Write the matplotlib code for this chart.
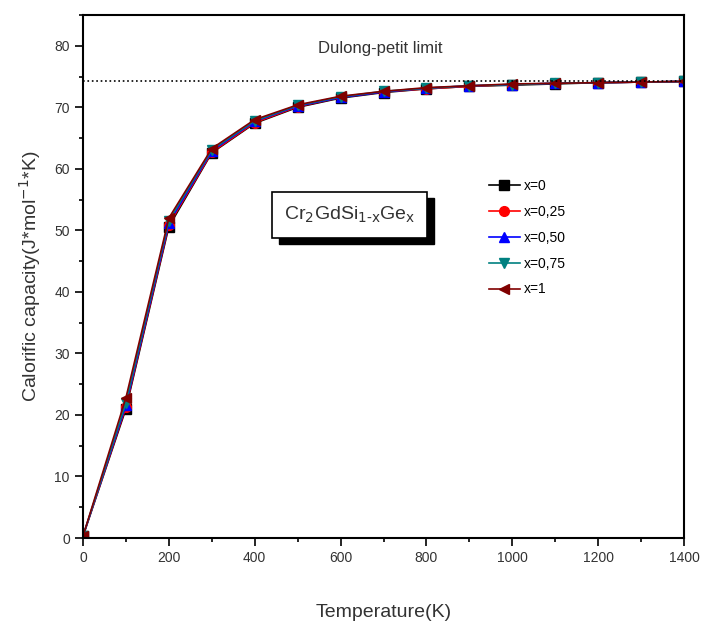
import matplotlib
matplotlib.use("Agg")
import matplotlib.pyplot as plt
from matplotlib.patches import Rectangle
from matplotlib.ticker import MultipleLocator

# temperatures (K) and heat capacity for each composition
temps = [0, 100, 200, 300, 400, 500, 600, 700, 800, 900, 1000, 1100, 1200, 1300, 1400]
cv_x0 = [0.3, 21.0, 50.6, 62.6, 67.4, 70.0, 71.5, 72.4, 73.0, 73.4, 73.6, 73.8, 74.0, 74.1, 74.2]
cv_x025 = [0.3, 21.3, 50.9, 62.7, 67.5, 70.1, 71.6, 72.5, 73.0, 73.4, 73.7, 73.9, 74.0, 74.1, 74.2]
cv_x050 = [0.3, 21.6, 51.2, 62.9, 67.7, 70.2, 71.6, 72.5, 73.1, 73.5, 73.7, 73.9, 74.0, 74.1, 74.2]
cv_x075 = [0.3, 22.0, 51.6, 63.1, 67.8, 70.3, 71.7, 72.6, 73.1, 73.5, 73.7, 73.9, 74.0, 74.1, 74.2]
cv_x1 = [0.3, 22.8, 52.0, 63.3, 68.0, 70.4, 71.8, 72.6, 73.2, 73.5, 73.8, 73.9, 74.0, 74.1, 74.2]
labels = ["x=0", "x=0,25", "x=0,50", "x=0,75", "x=1"]
dulong_petit = 74.2

series = [cv_x0, cv_x025, cv_x050, cv_x075, cv_x1]
colors = ["black", "red", "blue", "#008080", "#800000"]
markers = ["s", "o", "^", "v", "<"]

plt.rcParams['font.family'] = ['Liberation Sans', 'DejaVu Sans']
fig = plt.figure(figsize=(7.02, 6.31), dpi=100)
ax = fig.add_axes([83 / 702, 93 / 631, 601 / 702, 523 / 631])

for vals, c, m, lab in zip(series, colors, markers, labels):
    ax.plot(temps, vals, color=c, marker=m, markersize=7, linewidth=1.2, label=lab)

ax.axhline(dulong_petit, color="black", linestyle=":", linewidth=1.2)
ax.text(692, 79.5, "Dulong-petit limit", ha="center", va="center", fontsize=12, color="#333333")

# composition label box with drop shadow (axes fraction)
bx, by, bw, bh = 0.3145, 0.5736, 0.258, 0.088
ax.add_patch(Rectangle((bx + 0.012, by - 0.012), bw, bh, transform=ax.transAxes,
                       facecolor="black", edgecolor="black", zorder=5))
ax.add_patch(Rectangle((bx, by), bw, bh, transform=ax.transAxes,
                       facecolor="white", edgecolor="black", linewidth=1.2, zorder=6))
ax.text(bx + bw / 2, by + bh / 2, r"Cr$_\mathrm{2}$GdSi$_\mathrm{1\text{-}x}$Ge$_\mathrm{x}$",
        transform=ax.transAxes, ha="center", va="center", fontsize=14, color="#333333", zorder=7)

ax.set_xlim(0, 1400)
ax.set_ylim(0, 85)
ax.xaxis.set_major_locator(MultipleLocator(200))
ax.xaxis.set_minor_locator(MultipleLocator(100))
ax.yaxis.set_major_locator(MultipleLocator(10))
ax.yaxis.set_minor_locator(MultipleLocator(5))
ax.tick_params(which="both", direction="out", labelsize=10, width=1.2, colors="black", labelcolor="#333333")
ax.tick_params(which="major", length=6)
ax.tick_params(which="minor", length=3)
for s in ax.spines.values():
    s.set_linewidth(1.5)

ax.set_xlabel("Temperature(K)", fontsize=14, labelpad=28, color="#333333")
ax.set_ylabel("Calorific capacity(J*mol$^{-1}$*K)", fontsize=14, labelpad=8, color="#333333")

ax.legend(loc="upper left", bbox_to_anchor=(0.655, 0.71), frameon=False, fontsize=10,
          handlelength=2.2, labelspacing=0.85, handletextpad=0.3)

plt.savefig("out.png", dpi=100)
